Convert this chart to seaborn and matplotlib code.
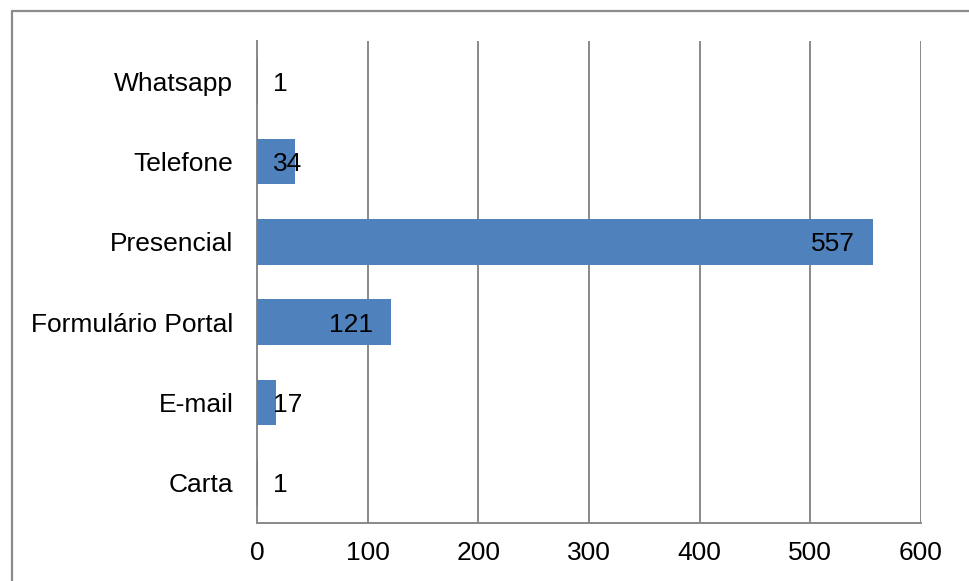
import matplotlib
matplotlib.use("Agg")
import matplotlib.pyplot as plt
from matplotlib.lines import Line2D
import seaborn as sns
import pandas as pd

# Service channels and number of requests received through each
canais = ["Whatsapp", "Telefone", "Presencial", "Formulário Portal", "E-mail", "Carta"]
quantidades = [1, 34, 557, 121, 17, 1]
ticks_x = [0, 100, 200, 300, 400, 500, 600]

sns.set_theme(style="white")
plt.rcParams["font.family"] = ["Liberation Sans", "DejaVu Sans"]

df = pd.DataFrame({"canal": canais, "qtd": quantidades})

fig = plt.figure(figsize=(9.69, 5.81), dpi=100)
ax = fig.add_axes([0.2652, 0.0998, 0.6853, 0.8296])

fs = 19
grid_color = "#898989"
ax.set_axisbelow(True)
ax.xaxis.grid(True, color=grid_color, linewidth=1.4)

sns.barplot(data=df, x="qtd", y="canal", order=canais, orient="h",
            color="#4F81BD", saturation=1, width=0.571, ax=ax,
            linewidth=0, zorder=3)

ax.set_xlim(0, 600)
ax.set_ylim(len(canais) - 0.5, -0.5)
ax.set_xticks(ticks_x)
ax.set_xticklabels([str(t) for t in ticks_x])
ax.set_xlabel("")
ax.set_ylabel("")

for s in ["top", "right"]:
    ax.spines[s].set_visible(False)
for s in ["left", "bottom"]:
    ax.spines[s].set_color(grid_color)
    ax.spines[s].set_linewidth(1.4)

ax.tick_params(axis="x", length=0, pad=13, labelsize=fs, colors="black")
ax.tick_params(axis="y", length=0, pad=17, labelsize=fs, colors="black")

# Value labels: inside the bar end when it fits, otherwise just past the axis
for i, v in enumerate(quantidades):
    if v >= 100:
        ax.annotate(str(v), xy=(v, i), xytext=(-13, 0), textcoords="offset points",
                    ha="right", va="center_baseline", fontsize=fs, color="black", zorder=5)
    else:
        ax.annotate(str(v), xy=(0, i), xytext=(11.5, 0), textcoords="offset points",
                    ha="left", va="center_baseline", fontsize=fs, color="black", zorder=5)

# Chart-area frame (left and top edges)
frame = dict(color="#8C8C8C", linewidth=1.6, transform=fig.transFigure)
fig.add_artist(Line2D([12 / 969, 12 / 969], [0, 1 - 11 / 581], **frame))
fig.add_artist(Line2D([12 / 969, 1], [1 - 11 / 581, 1 - 11 / 581], **frame))

fig.savefig("out.png", dpi=100)
